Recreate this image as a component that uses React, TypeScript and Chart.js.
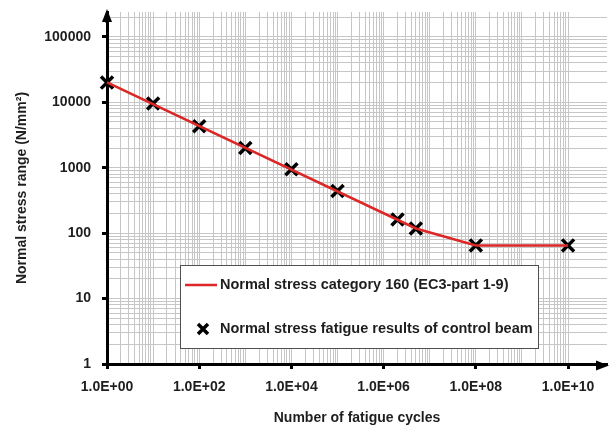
import React, { useEffect, useRef } from 'react';
import { Chart, registerables } from 'chart.js';

Chart.register(...registerables);

// ---- data ----
const testCycles = [1, 10, 100, 1000, 1e4, 1e5, 2e6, 5e6, 1e8, 1e10];
const testStress = [20000, 9600, 4300, 2000, 950, 440, 162, 118, 65, 65];
const categoryCycles = [1, 5e6, 1e8, 1e10];
const categoryStress = [20160, 117.9, 64.8, 64.8];

const xMajorTicks = [1, 1e2, 1e4, 1e6, 1e8, 1e10];
const xTickLabels = ['1.0E+00', '1.0E+02', '1.0E+04', '1.0E+06', '1.0E+08', '1.0E+10'];
const yMajorTicks = [1, 10, 100, 1000, 10000, 100000];
const yTickLabels = ['1', '10', '100', '1000', '10000', '100000'];

const xMin = 1;
const xMax = 7e10;
const xGridMax = 1e10;
const yMin = 1;
const yMax = 2.4e5;

const lineLabel = 'Normal stress category 160 (EC3-part 1-9)';
const markerLabel = 'Normal stress fatigue results of control beam';
const xTitle = 'Number of fatigue cycles';
const yTitle = 'Normal stress range (N/mm²)';

// ---- styles ----
const FONT = '"Liberation Sans", Arial, sans-serif';
const TEXT = '#1e1e1e';
const GRID = '#c6c6c6';
const RED = '#dd2626';

function logGrid(min: number, maxIncl: number): number[] {
  const out: number[] = [];
  let e = Math.floor(Math.log10(min));
  while (Math.pow(10, e) <= maxIncl) {
    for (let m = 1; m <= 9; m++) {
      const v = parseFloat((m * Math.pow(10, e)).toPrecision(6));
      if (v >= min && v <= maxIncl) out.push(v);
    }
    e++;
  }
  return out;
}

function matchIndex(list: number[], v: any): number {
  if (v === undefined || v === null || !(v > 0)) return -1;
  const lv = Math.log10(Number(v));
  return list.findIndex((t) => Math.abs(Math.log10(t) - lv) < 1e-6);
}

const xGrid = logGrid(xMin, xGridMax);
const yGrid = logGrid(yMin, yMax);

const decorPlugin = {
  id: 'decor',
  afterDraw(chart: any) {
    const { ctx, chartArea: ca } = chart;
    ctx.save();
    // arrow heads
    ctx.fillStyle = '#000';
    ctx.beginPath();
    ctx.moveTo(ca.left, ca.top - 3);
    ctx.lineTo(ca.left - 5, ca.top + 10);
    ctx.lineTo(ca.left + 5, ca.top + 10);
    ctx.closePath();
    ctx.fill();
    ctx.fillRect(ca.left - 1.5, ca.top + 5, 3, 6);

    const ay = ca.bottom + 1.5;
    ctx.beginPath();
    ctx.moveTo(ca.right + 2, ay);
    ctx.lineTo(ca.right - 11, ay - 5);
    ctx.lineTo(ca.right - 11, ay + 5);
    ctx.closePath();
    ctx.fill();

    // legend box
    const bx = ca.left + 73;
    const by = ca.top + 253;
    const bw = 358;
    const bh = 83;
    ctx.fillStyle = '#ffffff';
    ctx.fillRect(bx, by, bw, bh);
    ctx.strokeStyle = '#505050';
    ctx.lineWidth = 1;
    ctx.strokeRect(bx + 0.5, by + 0.5, bw, bh);

    const y1 = by + 20;
    const y2 = by + 64;
    ctx.strokeStyle = RED;
    ctx.lineWidth = 2.5;
    ctx.beginPath();
    ctx.moveTo(bx + 5, y1);
    ctx.lineTo(bx + 37, y1);
    ctx.stroke();

    ctx.strokeStyle = '#000';
    ctx.lineWidth = 3.5;
    const cx = bx + 23;
    const s = 5;
    ctx.beginPath();
    ctx.moveTo(cx - s, y2 - s);
    ctx.lineTo(cx + s, y2 + s);
    ctx.moveTo(cx + s, y2 - s);
    ctx.lineTo(cx - s, y2 + s);
    ctx.stroke();

    ctx.fillStyle = TEXT;
    ctx.font = `bold 14.5px ${FONT}`;
    ctx.textBaseline = 'middle';
    ctx.textAlign = 'left';
    ctx.fillText(lineLabel, bx + 40, y1);
    ctx.fillText(markerLabel, bx + 40, y2);
    ctx.restore();
  },
};

export default function App() {
  const canvasRef = useRef<HTMLCanvasElement | null>(null);

  useEffect(() => {
    const canvas = canvasRef.current;
    if (!canvas) return;
    const tickFont = { family: FONT, size: 14, weight: 'bold' as const };
    const chart = new Chart(canvas, {
      type: 'scatter',
      data: {
        datasets: [
          {
            label: lineLabel,
            data: categoryCycles.map((x, i) => ({ x, y: categoryStress[i] })),
            showLine: true,
            borderColor: RED,
            backgroundColor: RED,
            borderWidth: 2.5,
            pointRadius: 0,
            clip: false as any,
          },
          {
            label: markerLabel,
            data: testCycles.map((x, i) => ({ x, y: testStress[i] })),
            showLine: false,
            pointStyle: 'crossRot',
            pointRadius: 8.5,
            pointBorderWidth: 3.5,
            borderColor: '#000',
            backgroundColor: '#000',
            clip: false as any,
          },
        ],
      },
      options: {
        responsive: false,
        animation: false,
        layout: { autoPadding: false, padding: { top: 12, right: 2, left: 0, bottom: 0 } },
        plugins: {
          legend: { display: false },
          tooltip: { enabled: false },
        },
        scales: {
          x: {
            type: 'logarithmic',
            min: xMin,
            max: xMax,
            afterBuildTicks: (s: any) => {
              s.ticks = xGrid.map((v) => ({ value: v }));
            },
            afterFit: (s: any) => {
              s.height = 66;
              s.paddingLeft = 0;
              s.paddingRight = 0;
            },
            ticks: {
              autoSkip: false,
              maxRotation: 0,
              minRotation: 0,
              padding: 10,
              color: TEXT,
              font: tickFont,
              callback: (v: any) => {
                const i = matchIndex(xMajorTicks, v);
                return i >= 0 ? xTickLabels[i] : '';
              },
            },
            grid: {
              color: GRID,
              lineWidth: 1,
              drawTicks: true,
              tickLength: 5,
              tickWidth: 3,
              tickColor: (c: any) =>
                matchIndex(xMajorTicks, c.tick && c.tick.value) >= 0 ? '#000' : 'rgba(0,0,0,0)',
            },
            border: { display: true, color: '#000', width: 3 },
            title: {
              display: true,
              text: xTitle,
              color: TEXT,
              font: tickFont,
              padding: { top: 0, bottom: 3 },
            },
          },
          y: {
            type: 'logarithmic',
            min: yMin,
            max: yMax,
            afterBuildTicks: (s: any) => {
              s.ticks = yGrid.map((v) => ({ value: v }));
            },
            afterFit: (s: any) => {
              s.width = 107;
              s.paddingTop = 0;
              s.paddingBottom = 0;
            },
            ticks: {
              autoSkip: false,
              padding: 11,
              color: TEXT,
              font: tickFont,
              callback: (v: any) => {
                const i = matchIndex(yMajorTicks, v);
                return i >= 0 ? yTickLabels[i] : '';
              },
            },
            grid: {
              color: GRID,
              lineWidth: 1,
              drawTicks: true,
              tickLength: 5,
              tickWidth: 3,
              tickColor: (c: any) =>
                matchIndex(yMajorTicks, c.tick && c.tick.value) >= 0 ? '#000' : 'rgba(0,0,0,0)',
            },
            border: { display: true, color: '#000', width: 3 },
            title: {
              display: true,
              text: yTitle,
              color: TEXT,
              font: tickFont,
              padding: { top: 14, bottom: 0 },
            },
          },
        },
      } as any,
      plugins: [decorPlugin],
    });
    return () => chart.destroy();
  }, []);

  return (
    <div style={{ position: 'fixed', left: 0, top: 0, width: 609, height: 430, background: '#fff' }}>
      <canvas ref={canvasRef} width={609} height={430} style={{ display: 'block', width: 609, height: 430 }} />
    </div>
  );
}
